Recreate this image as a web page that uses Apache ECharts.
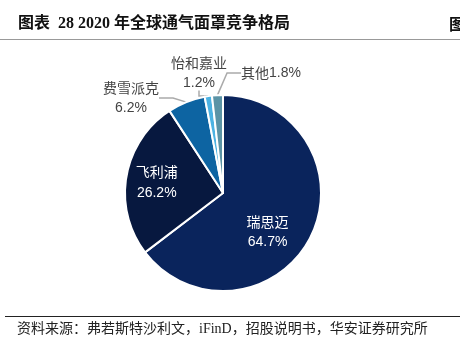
<!DOCTYPE html>
<html>
<head>
<meta charset="utf-8">
<script src="https://cdn.jsdelivr.net/npm/echarts@6/dist/echarts.min.js"></script>
<style>
  html, body { margin: 0; padding: 0; background: #fff; }
  #main { width: 460px; height: 354px; }
</style>
</head>
<body>
<div id="main"></div>
<script>
var names = ['瑞思迈', '飞利浦', '费雪派克', '怡和嘉业', '其他'];
var shares = [64.7, 26.2, 6.2, 1.2, 1.8];
var colors = ['#0a245c', '#07183f', '#0d64a2', '#4cb2e2', '#5a93a6'];

var myChart = echarts.init(document.getElementById('main'));

var cjk = '"Noto Sans CJK SC", sans-serif';
var num = '"Liberation Sans", Arial, sans-serif';

// label placement for each slice (inside for the big ones, outside for the rest)
var labelCfg = [
  { position: 'inside', color: '#fff', offset: [-2, 16] },
  { position: 'inside', color: '#fff', offset: [-15, -2] },
  { position: 'outside', color: '#444' },
  { position: 'outside', color: '#444' },
  { position: 'outside', color: '#444', oneLine: true }
];
var labelPos = [null, null, [131, 98], [199, 73], [271, 73]];

var data = names.map(function (n, i) {
  var c = labelCfg[i];
  return {
    name: n,
    value: shares[i],
    itemStyle: { color: colors[i] },
    label: {
      position: c.position,
      color: c.color,
      offset: c.offset,
      formatter: c.oneLine ? '{a|{b}}{n|{c}%}' : '{a|{b}}\n{n|{c}%}',
      rich: {
        a: { fontFamily: cjk, fontSize: 14, color: c.color, lineHeight: 21, align: 'center' },
        n: { fontFamily: num, fontSize: 14, color: c.color, lineHeight: 21, align: 'center' }
      }
    }
  };
});

option = {
  animation: false,
  graphic: [
    { type: 'text', left: 18, top: 16, style: { text: '图表  28 2020 年全球通气面罩竞争格局', font: 'bold 16px "Liberation Serif", "Noto Sans CJK SC", serif', fill: '#111' } },
    { type: 'text', left: 449, top: 16, style: { text: '图', font: 'bold 16px "Noto Sans CJK SC", serif', fill: '#111' } },
    { type: 'rect', shape: { x: 0, y: 39, width: 460, height: 1 }, style: { fill: '#999' } },
    { type: 'rect', shape: { x: 5, y: 316, width: 455, height: 1 }, style: { fill: '#222' } },
    { type: 'text', left: 17, top: 322, style: { text: '资料来源：弗若斯特沙利文，iFinD，招股说明书，华安证券研究所', font: '14px "Liberation Serif", "Noto Sans CJK SC", serif', fill: '#222' } }
  ],
  series: [
    {
      name: '2020年全球通气面罩竞争格局',
      type: 'pie',
      center: [223, 193],
      radius: 98,
      startAngle: 90,
      clockwise: true,
      itemStyle: { borderColor: '#fff', borderWidth: 2 },
      labelLine: { show: true, length: 8, length2: 14, lineStyle: { color: '#aaa', width: 1.5 } },
      labelLayout: function (p) {
        var pos = labelPos[p.dataIndex];
        if (!pos) return {};
        return { x: pos[0], y: pos[1], align: 'center', verticalAlign: 'middle', draggable: false };
      },
      data: data
    }
  ]
};
myChart.setOption(option);
</script>
</body>
</html>
